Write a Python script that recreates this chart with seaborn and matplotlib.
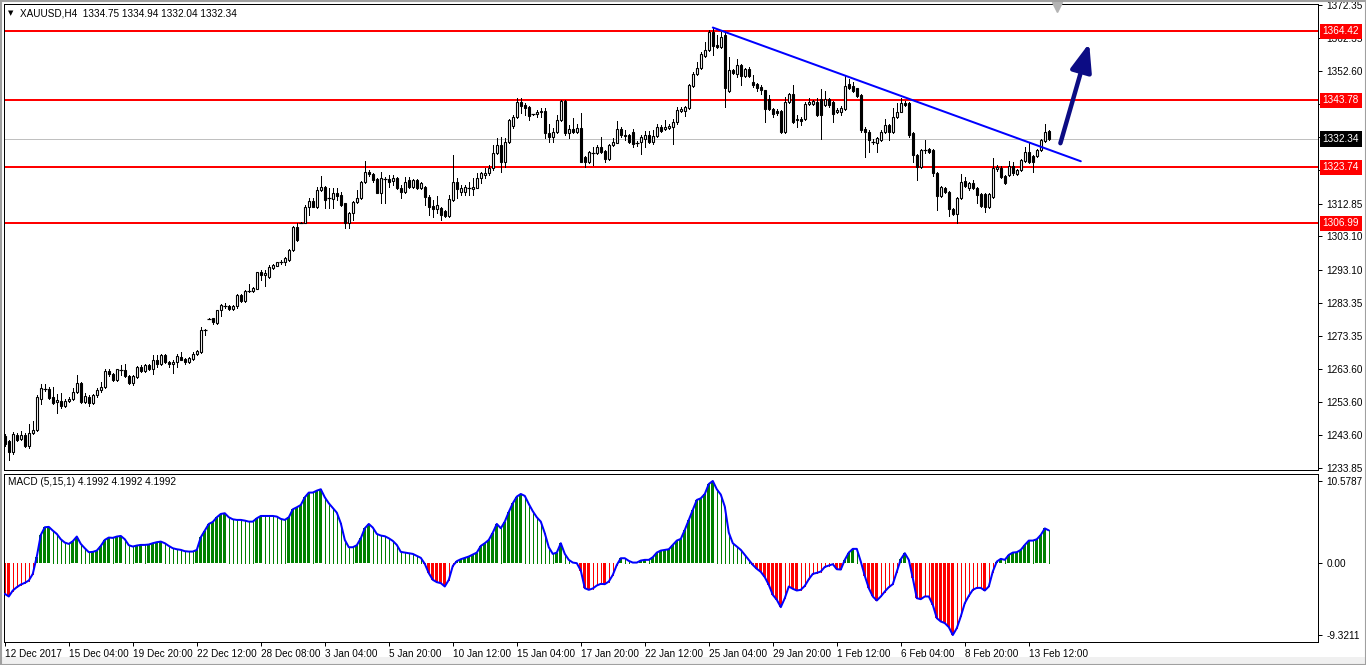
import numpy as np
import matplotlib
matplotlib.use("Agg")
import matplotlib.pyplot as plt
import matplotlib.transforms as mtrans
from matplotlib.patches import Rectangle
import seaborn as sns

# ---------------- data (XAUUSD H4) ----------------
opens = [1243.5,1241.8,1238.5,1243.7,1242.5,1243.7,1240.5,1244.3,1245.2,1254.6,
 1257.6,1257.6,1255.0,1253.7,1254.0,1252.4,1253.8,1254.6,1256.5,1259.4,
 1253.7,1255.2,1253.2,1255.6,1257.2,1258.0,1262.9,1261.9,1260.2,1263.4,
 1263.3,1261.5,1259.3,1261.1,1264.1,1262.9,1264.6,1263.6,1266.3,1265.1,
 1267.6,1265.6,1265.1,1265.6,1267.1,1266.6,1265.6,1266.6,1267.9,1268.6,
 1275.3,1278.6,1278.6,1277.3,1281.0,1282.3,1282.3,1281.3,1282.2,1285.5,
 1283.8,1286.7,1286.8,1287.5,1292.5,1291.5,1291.0,1293.8,1294.4,1295.4,
 1295.4,1296.2,1299.0,1305.8,1307.2,1307.2,1311.8,1313.7,1312.0,1317.0,
 1318.0,1314.3,1314.2,1316.2,1315.5,1313.0,1307.0,1310.0,1313.3,1314.5,
 1319.5,1322.5,1321.7,1320.2,1316.2,1320.3,1320.2,1319.7,1320.7,1317.5,
 1316.5,1320.0,1317.8,1320.0,1317.5,1318.0,1315.0,1312.2,1311.2,1311.7,
 1310.7,1309.2,1314.0,1319.5,1316.3,1316.5,1317.8,1317.3,1317.7,1320.5,
 1321.6,1322.0,1323.7,1328.0,1330.5,1325.3,1331.5,1336.2,1338.7,1343.4,
 1342.4,1341.8,1339.6,1339.6,1340.2,1340.7,1334.0,1333.0,1334.3,1337.9,
 1343.6,1334.0,1335.4,1334.5,1335.6,1327.0,1325.5,1328.3,1328.2,1330.0,
 1328.7,1326.3,1330.5,1331.2,1335.2,1333.6,1333.4,1334.5,1331.2,1331.4,
 1332.4,1333.6,1331.4,1333.3,1336.0,1335.3,1335.7,1336.0,1337.3,1340.5,
 1340.5,1341.6,1348.1,1351.8,1353.5,1357.0,1358.8,1364.3,1360.3,1359.8,
 1363.3,1346.6,1352.8,1351.8,1354.3,1351.1,1353.3,1349.3,1348.8,1347.8,
 1346.8,1344.1,1341.1,1340.6,1340.6,1334.3,1343.3,1345.8,1338.0,1338.3,
 1338.2,1342.6,1342.8,1343.3,1344.3,1342.3,1344.3,1343.3,1340.3,1340.3,
 1341.1,1348.8,1348.0,1347.4,1345.4,1335.4,1334.4,1331.5,1331.0,1332.0,
 1334.3,1336.5,1334.5,1338.9,1340.4,1343.1,1343.1,1334.0,1327.5,1324.0,
 1329.0,1329.3,1329.0,1322.0,1315.2,1317.5,1316.5,1311.2,1309.8,1314.5,
 1319.7,1317.5,1319.2,1317.5,1315.7,1315.7,1312.0,1314.8,1323.2,1323.5,
 1321.2,1321.5,1324.2,1321.8,1323.0,1325.8,1328.5,1327.2,1327.2,1329.0,
 1331.8,1334.75]
highs = [1244.0,1242.2,1244.7,1244.2,1245.0,1244.2,1247.0,1248.0,1255.7,1259.0,
 1258.9,1258.0,1258.2,1256.0,1256.4,1254.4,1255.2,1257.7,1261.8,1259.6,
 1256.4,1255.6,1256.0,1257.8,1259.7,1263.6,1263.4,1262.2,1263.6,1264.8,
 1265.0,1261.8,1261.6,1264.4,1264.6,1264.9,1265.1,1267.6,1267.6,1268.0,
 1268.0,1266.0,1266.3,1268.1,1268.6,1266.9,1267.1,1268.6,1269.3,1276.1,
 1275.4,1278.7,1278.6,1281.2,1282.9,1283.2,1282.5,1282.5,1286.0,1286.0,
 1287.2,1289.0,1288.0,1292.6,1293.0,1293.2,1294.6,1294.8,1295.6,1296.0,
 1297.0,1299.4,1306.2,1307.0,1307.4,1312.4,1314.5,1314.7,1318.0,1321.2,
 1318.2,1317.5,1317.5,1317.5,1316.5,1313.2,1310.3,1313.8,1317.0,1319.8,
 1325.8,1323.0,1322.0,1320.5,1322.5,1321.0,1321.5,1321.5,1321.0,1318.5,
 1321.0,1320.8,1320.3,1320.3,1319.5,1318.2,1315.5,1313.9,1315.3,1312.0,
 1311.0,1315.5,1327.5,1320.5,1318.4,1318.5,1319.5,1320.5,1322.0,1322.5,
 1323.5,1324.5,1330.5,1332.5,1333.0,1332.5,1338.3,1339.5,1344.4,1344.4,
 1342.9,1342.0,1339.8,1341.0,1341.6,1341.4,1336.6,1335.7,1339.4,1343.9,
 1344.0,1336.4,1338.4,1336.6,1339.9,1327.3,1328.6,1330.0,1330.5,1333.0,
 1329.0,1330.8,1332.5,1337.5,1336.0,1334.9,1333.7,1335.3,1331.6,1333.6,
 1334.8,1334.8,1335.0,1336.8,1336.3,1337.9,1336.8,1338.3,1341.8,1341.8,
 1342.2,1348.8,1352.3,1355.3,1358.3,1361.3,1364.8,1365.8,1363.3,1364.3,
 1364.5,1356.8,1353.2,1356.3,1354.6,1353.6,1353.8,1351.3,1349.0,1348.5,
 1347.0,1345.3,1341.4,1341.1,1341.0,1344.8,1346.1,1348.5,1339.3,1338.8,
 1343.3,1344.4,1344.0,1344.4,1347.3,1346.5,1344.5,1343.6,1341.5,1342.0,
 1351.3,1350.3,1349.4,1347.6,1345.6,1335.8,1335.0,1332.4,1332.8,1335.0,
 1338.1,1336.8,1341.4,1342.9,1344.4,1343.6,1343.4,1334.3,1327.8,1329.2,
 1332.0,1329.6,1329.3,1322.3,1318.3,1318.0,1316.8,1311.5,1315.0,1321.8,
 1321.0,1319.3,1320.0,1317.8,1316.0,1316.0,1316.0,1326.5,1324.5,1324.2,
 1321.5,1325.8,1325.5,1323.4,1326.3,1329.8,1331.0,1327.5,1329.3,1332.4,
 1336.7,1334.94]
lows = [1240.5,1236.2,1238.0,1241.8,1242.3,1240.0,1239.7,1244.0,1244.8,1253.0,
 1256.9,1254.5,1252.9,1250.2,1251.9,1252.0,1253.6,1254.3,1256.2,1253.2,
 1253.2,1252.5,1253.0,1255.2,1256.7,1257.8,1261.3,1259.8,1259.8,1261.6,
 1261.0,1259.0,1258.8,1260.8,1262.6,1262.6,1263.1,1262.0,1264.1,1264.8,
 1265.2,1264.1,1262.3,1264.1,1266.1,1265.1,1265.3,1266.3,1267.6,1268.3,
 1273.6,1278.3,1276.9,1276.8,1279.3,1281.8,1281.0,1281.0,1281.8,1283.5,
 1283.5,1286.4,1286.6,1287.3,1290.0,1288.2,1290.8,1293.5,1294.2,1295.0,
 1294.5,1295.9,1298.8,1301.8,1307.0,1307.0,1309.5,1311.8,1311.5,1316.8,
 1311.5,1311.5,1311.5,1314.0,1312.2,1305.5,1305.7,1308.0,1313.0,1314.2,
 1319.2,1321.3,1319.5,1316.0,1313.2,1313.2,1318.0,1318.5,1317.2,1314.5,
 1316.2,1317.5,1317.5,1317.2,1317.2,1312.5,1309.6,1309.0,1310.0,1308.0,
 1308.8,1309.0,1313.8,1314.5,1315.5,1315.5,1315.5,1315.5,1317.5,1319.0,
 1320.5,1321.5,1323.0,1327.8,1322.3,1324.0,1331.2,1335.5,1338.4,1339.9,
 1339.4,1337.9,1339.4,1338.7,1338.9,1332.5,1331.5,1331.5,1334.0,1337.6,
 1333.5,1332.5,1334.0,1334.2,1325.3,1324.0,1325.2,1324.5,1327.9,1328.2,
 1325.5,1326.0,1330.2,1331.0,1333.0,1332.0,1331.0,1330.0,1330.3,1327.9,
 1329.9,1331.0,1330.9,1333.0,1334.5,1335.0,1335.2,1330.9,1336.8,1340.2,
 1339.0,1341.3,1347.8,1351.5,1353.2,1356.8,1358.5,1357.3,1359.5,1359.5,
 1341.8,1346.3,1351.6,1350.8,1348.5,1350.8,1350.8,1347.8,1346.5,1345.8,
 1337.3,1340.8,1338.8,1339.5,1334.0,1334.0,1343.0,1336.9,1335.9,1336.3,
 1337.8,1342.3,1342.5,1339.0,1332.2,1342.0,1341.8,1337.3,1340.0,1339.5,
 1340.8,1347.2,1346.3,1344.8,1334.4,1327.0,1328.5,1330.8,1328.5,1331.8,
 1334.0,1332.0,1334.2,1338.6,1340.2,1342.0,1333.0,1325.5,1320.0,1323.7,
 1328.0,1328.2,1321.2,1311.0,1314.9,1316.0,1309.2,1309.5,1307.2,1314.2,
 1317.9,1317.0,1317.2,1313.2,1311.8,1310.5,1311.7,1314.5,1322.8,1320.6,
 1318.8,1321.2,1321.6,1321.5,1322.7,1325.5,1325.2,1322.5,1326.8,1328.7,
 1331.5,1332.04]
closes = [1241.0,1238.5,1244.0,1242.3,1243.7,1240.5,1244.3,1245.3,1255.2,1257.7,
 1257.4,1254.8,1253.3,1254.2,1252.4,1253.9,1254.6,1256.6,1259.4,1253.7,
 1255.4,1253.2,1255.7,1257.2,1258.0,1262.9,1261.9,1260.2,1263.4,1263.3,
 1261.4,1259.3,1261.3,1264.1,1262.9,1264.6,1263.6,1266.3,1265.1,1267.6,
 1265.6,1265.1,1265.6,1267.3,1266.3,1265.6,1266.8,1267.9,1268.9,1275.1,
 1275.1,1278.5,1277.4,1281.0,1282.7,1282.2,1281.3,1282.2,1285.5,1283.8,
 1286.8,1286.8,1287.6,1292.5,1291.5,1292.2,1294.0,1294.5,1295.4,1295.5,
 1296.8,1299.2,1305.8,1302.0,1307.2,1312.0,1313.7,1312.0,1317.0,1317.8,
 1314.0,1314.5,1316.0,1315.2,1312.5,1307.0,1310.0,1313.5,1314.5,1319.5,
 1322.5,1321.7,1320.0,1316.2,1320.5,1320.2,1319.5,1320.7,1317.5,1316.5,
 1319.5,1317.8,1320.0,1317.5,1319.2,1315.0,1312.0,1311.2,1312.4,1309.5,
 1309.2,1314.2,1319.5,1317.3,1317.5,1317.8,1317.7,1317.8,1320.5,1322.0,
 1322.2,1323.7,1328.0,1330.5,1325.3,1331.5,1338.0,1338.7,1343.4,1342.2,
 1341.6,1339.2,1339.6,1340.2,1340.7,1334.0,1333.0,1334.5,1337.9,1343.6,
 1334.0,1335.4,1334.5,1335.6,1325.5,1325.5,1328.3,1328.2,1329.8,1328.5,
 1326.3,1330.5,1331.3,1335.2,1333.5,1333.2,1331.3,1330.7,1331.1,1332.9,
 1333.6,1331.4,1333.3,1336.0,1334.8,1336.0,1336.2,1337.3,1340.8,1341.2,
 1341.8,1348.5,1351.8,1353.5,1357.8,1358.8,1364.3,1360.1,1359.8,1362.8,
 1347.6,1352.8,1352.1,1354.3,1351.1,1353.3,1351.1,1348.3,1347.5,1346.8,
 1341.1,1341.1,1339.6,1339.9,1334.4,1343.3,1345.8,1337.4,1338.3,1337.5,
 1342.8,1343.3,1343.5,1339.3,1339.3,1344.3,1342.3,1339.8,1341.0,1341.5,
 1348.1,1347.6,1346.7,1345.1,1334.9,1334.4,1331.9,1331.4,1332.5,1334.5,
 1336.5,1334.5,1338.9,1340.4,1343.1,1342.4,1333.5,1327.5,1324.0,1329.0,
 1328.9,1328.5,1322.0,1315.2,1318.0,1316.5,1311.2,1309.8,1314.7,1319.5,
 1318.2,1319.0,1317.5,1315.5,1312.2,1312.0,1315.7,1323.5,1323.8,1321.0,
 1319.2,1324.2,1322.0,1323.0,1326.0,1328.5,1325.5,1325.5,1329.0,1332.0,
 1334.5,1332.34]
macd = [-4.00,-4.34,-3.57,-3.14,-2.80,-2.58,-2.28,-1.42,0.82,3.61,
 4.60,4.65,4.17,3.74,3.05,2.62,2.45,2.80,3.40,2.45,
 1.89,1.38,1.42,1.59,2.19,2.97,3.27,3.23,3.40,3.48,
 3.05,2.28,2.11,2.24,2.32,2.32,2.37,2.54,2.67,2.75,
 2.54,2.19,1.89,1.76,1.68,1.51,1.46,1.46,1.68,3.31,
 4.17,5.03,5.29,5.89,6.32,6.41,5.89,5.63,5.55,5.55,
 5.46,5.33,5.33,5.76,6.06,6.06,6.06,6.06,5.98,5.68,
 5.55,5.89,6.92,7.18,7.48,8.47,9.08,9.08,9.33,9.51,
 8.47,7.70,7.10,6.49,5.12,2.97,2.02,2.02,2.28,3.18,
 4.47,5.03,4.56,3.74,3.53,3.44,3.18,2.84,2.32,1.42,
 1.33,1.25,1.16,0.90,0.65,-0.13,-1.33,-2.19,-2.49,-2.62,
 -3.05,-2.19,-0.39,0.22,0.47,0.65,0.82,1.08,1.33,2.19,
 2.54,2.97,3.91,5.03,4.47,5.33,6.58,7.70,8.56,8.90,
 8.65,7.61,6.67,5.89,5.33,3.83,2.02,1.16,1.33,2.54,
 1.16,0.39,0.04,-0.04,-0.99,-3.27,-3.48,-3.31,-2.92,-2.71,
 -2.75,-2.41,-1.55,-0.26,0.60,0.60,0.26,0.04,0.04,0.30,
 0.39,0.39,0.73,1.33,1.59,1.68,1.76,2.32,2.88,3.10,
 4.26,5.55,6.84,8.13,8.34,8.90,10.19,10.58,9.51,8.82,
 7.27,3.91,2.54,2.11,1.68,1.03,0.39,-0.26,-0.77,-1.16,
 -1.85,-2.84,-4.13,-4.77,-5.72,-4.56,-3.05,-3.35,-3.57,-3.48,
 -2.97,-2.11,-1.42,-1.29,-1.12,-0.52,-0.34,-0.17,-0.82,-0.86,
 0.39,1.33,1.81,1.81,0.17,-1.68,-3.27,-4.34,-4.86,-4.34,
 -3.70,-3.14,-2.75,-1.12,0.47,1.25,0.39,-1.98,-4.56,-4.69,
 -4.34,-4.34,-5.42,-7.14,-7.57,-7.78,-8.30,-9.32,-8.43,-6.92,
 -5.20,-4.26,-3.48,-3.23,-3.23,-3.57,-3.05,-1.12,0.17,0.52,
 0.39,1.03,1.33,1.38,1.68,2.32,2.88,2.88,3.05,3.61,
 4.45,4.20]
date_labels = ["12 Dec 2017", "15 Dec 04:00", "19 Dec 20:00", "22 Dec 12:00",
               "28 Dec 08:00", "3 Jan 04:00", "5 Jan 20:00", "10 Jan 12:00",
               "15 Jan 04:00", "17 Jan 20:00", "22 Jan 12:00", "25 Jan 04:00",
               "29 Jan 20:00", "1 Feb 12:00", "6 Feb 04:00", "8 Feb 20:00",
               "13 Feb 12:00"]
bars_per_label = 16
price_ticks = [1372.35, 1362.35, 1352.60, 1342.60, 1332.85, 1322.85, 1312.85,
               1303.10, 1293.10, 1283.35, 1273.35, 1263.60, 1253.60, 1243.60, 1233.85]
hidden_price_ticks = [1332.85]   # fully covered by the current-price box in the original
levels = [1364.42, 1343.78, 1323.74, 1306.99]
last_price = 1332.34
macd_ticks = [10.5787, 0.0, -9.3211]
trend_bars = [177, 269]
trend_prices = [1365.6, 1325.6]
arrow_bars = [263.9, 271.1]
arrow_prices = [1331.0, 1360.9]
shift_marker = (263.0, 1371.6)
title_text = "XAUUSD,H4  1334.75 1334.94 1332.04 1332.34"
macd_text = "MACD (5,15,1) 4.1992 4.1992 4.1992"

# ---------------- style ----------------
sns.set_style("white")
plt.rcParams['font.family'] = ['Liberation Sans', 'DejaVu Sans']
FS = 7.2
PX = 0.72  # one pixel in points at dpi 100

W, H = 1366, 665
fig = plt.figure(figsize=(W / 100, H / 100), dpi=100)
fig.patch.set_facecolor("white")

ax = fig.add_axes([4 / W, 1 - 470 / H, 1314 / W, 466 / H])
ax2 = fig.add_axes([4 / W, 1 - 642 / H, 1314 / W, 168 / H])

n = len(closes)
x = np.arange(n)
o = np.array(opens); c = np.array(closes)
hi = np.array(highs); lo = np.array(lows)

# ---------------- main chart ----------------
ax.set_xlim(-0.2, 328.3)
ax.set_ylim(1233.26, 1372.64)

ax.axhline(last_price, color="#C0C0C0", lw=PX, zorder=1)
for lv in levels:
    ax.axhline(lv, color="#FF0000", lw=2 * PX, zorder=2)

ax.vlines(x, lo, hi, color="black", lw=PX, zorder=3, antialiased=False)
bw = 0.55
body_lo = np.minimum(o, c)
body_h = np.abs(c - o)
doji = body_h < 0.25
bull = (c > o) & ~doji
bear = (c <= o) & ~doji
ax.bar(x[bull], body_h[bull], bottom=body_lo[bull], width=bw, color="white",
       edgecolor="black", linewidth=PX * 1.1, zorder=4)
ax.bar(x[bear], body_h[bear], bottom=body_lo[bear], width=bw, color="black",
       edgecolor="black", linewidth=PX * 1.1, zorder=4)
ax.hlines(c[doji], x[doji] - 0.45, x[doji] + 0.45, color="black", lw=PX * 1.2, zorder=4)

sns.lineplot(x=trend_bars, y=trend_prices, ax=ax, color="#0000FF", lw=2 * PX,
             zorder=5, legend=False)
ax.annotate("", xy=(arrow_bars[1], arrow_prices[1]), xytext=(arrow_bars[0], arrow_prices[0]),
            arrowprops=dict(arrowstyle="-|>,head_length=1.7,head_width=0.65",
                            color="#0C0C84", lw=3.2, mutation_scale=10,
                            shrinkA=0, shrinkB=0), zorder=6)
ax.plot([shift_marker[0]], [shift_marker[1]], marker="v", color="#B4B4B4", ms=7,
        mec="#B4B4B4", clip_on=False, zorder=6)

ax.yaxis.tick_right()
ax.set_yticks(price_ticks)
ax.set_yticklabels(["" if t in hidden_price_ticks else f"{t:.2f}" for t in price_ticks])
ax.tick_params(axis="y", direction="out", length=3, width=PX, pad=3,
               labelsize=FS, colors="black", right=True, left=False)
ax.set_xticks([])
for s in ax.spines.values():
    s.set_color("black"); s.set_linewidth(PX); s.set_visible(True)

trans = mtrans.blended_transform_factory(ax.transAxes, ax.transData)
for lv in levels:
    ax.text(1.0035, lv, f"{lv:.2f}", transform=trans, ha="left", va="center",
            fontsize=FS, color="white", zorder=10, clip_on=False,
            bbox=dict(boxstyle="square,pad=0.28", fc="#FF0000", ec="none"))
ax.text(1.0035, last_price, f"{last_price:.2f}", transform=trans, ha="left",
        va="center", fontsize=FS, color="white", zorder=10, clip_on=False,
        bbox=dict(boxstyle="square,pad=0.28", fc="black", ec="none"))

# ---------------- MACD panel ----------------
m = np.array(macd)
ax2.set_xlim(-0.2, 328.3)
ax2.set_ylim(-10.22, 11.48)
prev = np.concatenate([[m[0]], m[:-1]])
pos = m >= 0
thick = np.where(pos, m > prev, m < prev)
thick[0] = True
cols = np.where(pos, "#008000", "#FF0000")
sel = thick
ax2.bar(x[sel], m[sel], width=0.72, color=list(cols[sel]), linewidth=0, zorder=2)
sel = ~thick
ax2.vlines(x[sel], 0, m[sel], colors=list(cols[sel]), lw=PX, zorder=2, antialiased=False)
sns.lineplot(x=x, y=m, ax=ax2, color="#0000FF", lw=2 * PX, zorder=3, legend=False)

ax2.yaxis.tick_right()
ax2.set_yticks(macd_ticks)
ax2.set_yticklabels(["10.5787", "0.00", "-9.3211"])
ax2.tick_params(axis="y", direction="out", length=3, width=PX, pad=3,
                labelsize=FS, colors="black", right=True, left=False)
tick_pos = np.arange(0, n, bars_per_label)[:len(date_labels)]
ax2.set_xticks(tick_pos)
ax2.set_xticklabels(date_labels)
ax2.tick_params(axis="x", direction="out", length=3, width=PX, pad=2,
                labelsize=FS, colors="black", bottom=True)
for lab in ax2.get_xticklabels():
    lab.set_ha("left")
for s in ax2.spines.values():
    s.set_color("black"); s.set_linewidth(PX); s.set_visible(True)
ax2.set_xlabel(""); ax2.set_ylabel("")
ax.set_xlabel(""); ax.set_ylabel("")

# ---------------- texts and window chrome ----------------
fig.text(8 / W, 1 - 13 / H, "\u25BC", fontsize=5, color="black", va="center",
         family=["DejaVu Sans"])
fig.text(20 / W, 1 - 13 / H, title_text, fontsize=FS, color="black", va="center")
fig.text(8 / W, 1 - 482 / H, macd_text, fontsize=FS, color="black", va="center")

fig.patches.append(Rectangle((0, 0), 1, 1 - 657 / H, transform=fig.transFigure,
                             fc="#F0F0F0", ec="none", zorder=0))
fig.patches.append(Rectangle((0.5 / W, 0.5 / H), 1 - 1 / W, 1 - 1 / H,
                             transform=fig.transFigure, fill=False,
                             ec="#A0A0A0", lw=1.5, zorder=20))

fig.savefig("out.png", dpi=100, facecolor="white")
